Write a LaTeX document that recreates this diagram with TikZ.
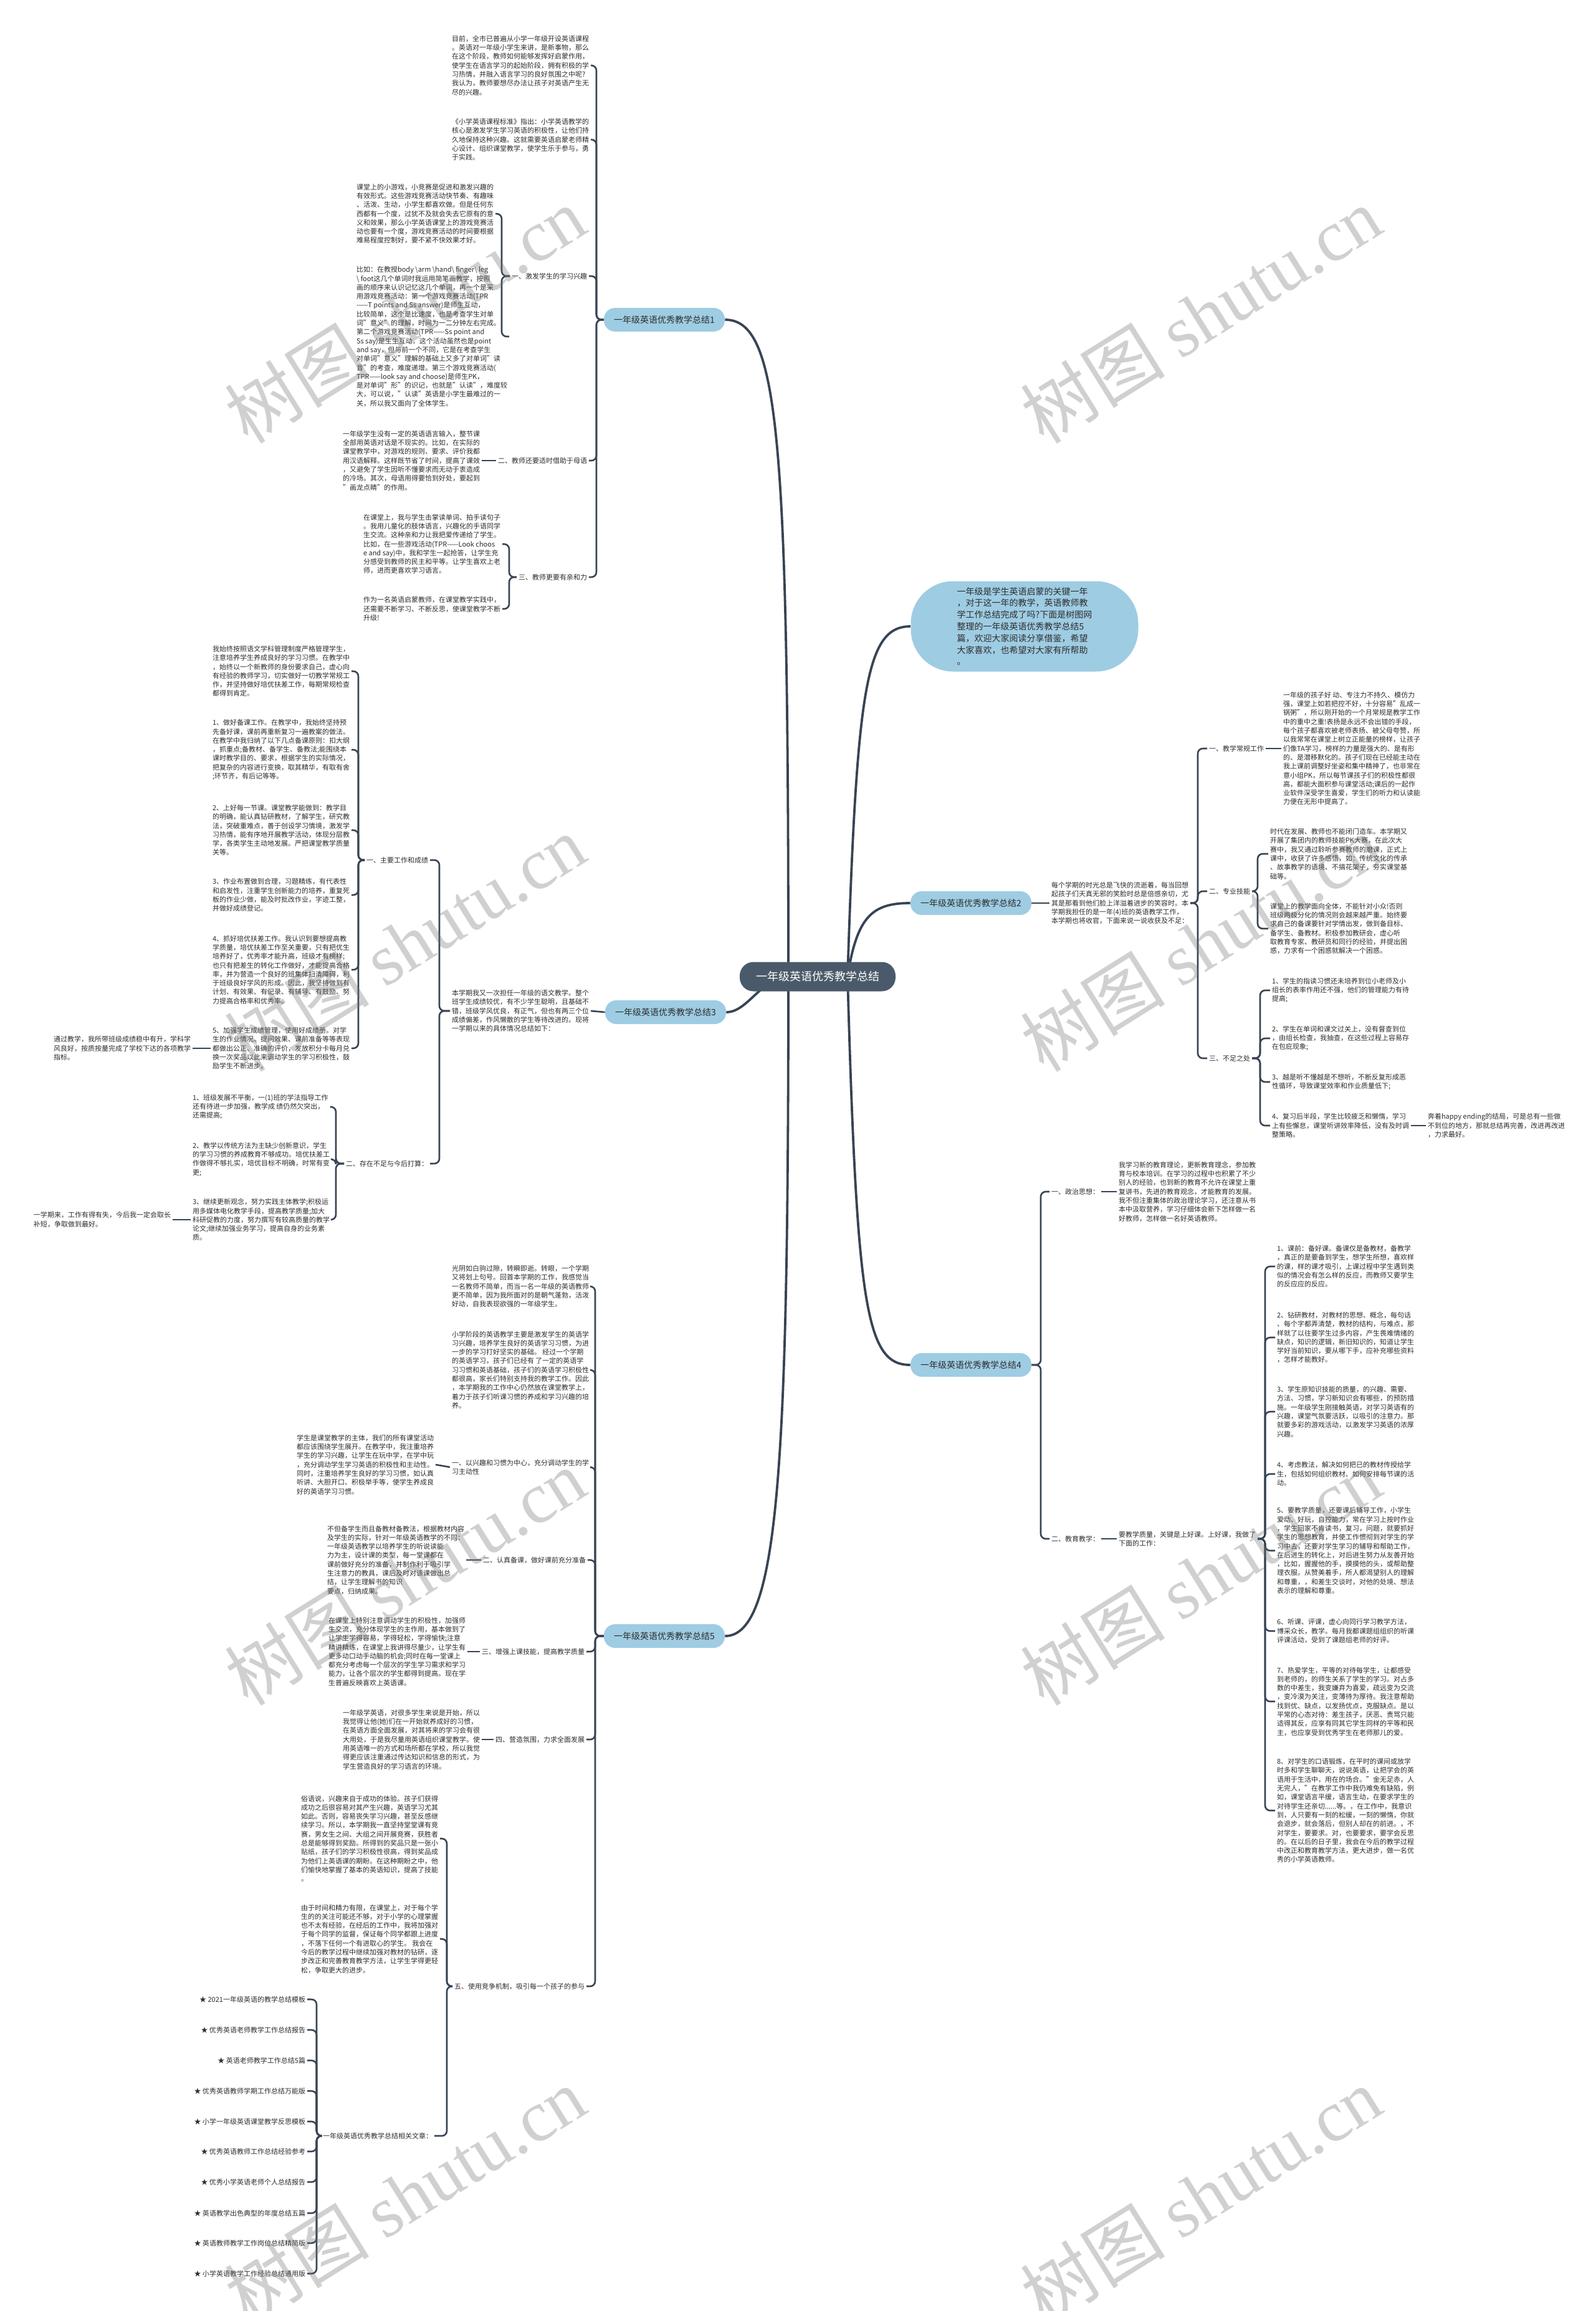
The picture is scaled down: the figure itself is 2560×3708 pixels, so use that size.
\documentclass[tikz,border=0pt]{standalone}
\usepackage{fontspec}
\setmainfont{Noto Sans CJK SC}
\newfontfamily\wmlat{Liberation Serif}
\usetikzlibrary{backgrounds}
\definecolor{ln}{RGB}{55,68,84}
\definecolor{blu}{RGB}{158,204,227}
\definecolor{ctrc}{RGB}{74,90,106}
\definecolor{txt}{RGB}{45,45,45}
\tikzset{
  para/.style={align=left, inner sep=0pt, outer sep=1.5pt, font=\fontsize{5.5}{7.15}\selectfont, text=txt},
  br/.style={draw=ln, line width=1.3pt, rounded corners=4pt},
  mainln/.style={draw=ln, line width=1.9pt},
  sumnode/.style={fill=blu, rounded corners=9pt, minimum width=97pt, minimum height=19pt, inner sep=0pt, font=\fontsize{7}{8.4}\selectfont, text=txt},
  ctrnode/.style={fill=ctrc, rounded corners=11pt, minimum width=125pt, minimum height=23.5pt, inner sep=0pt, font=\fontsize{9}{10}\selectfont, text=white},
  intronode/.style={fill=blu, rounded corners=34pt, minimum width=182.5pt, minimum height=72.5pt, inner sep=0pt, align=left, font=\fontsize{7}{9.4}\selectfont, text=txt},
  wm/.style={text=black!55, opacity=0.33, rotate=32, font=\fontsize{58}{60}\selectfont, inner sep=0pt}
}
\begin{document}
\begin{tikzpicture}[x=0.5pt,y=-0.5pt]
\useasboundingbox (0,0) rectangle (2560,3708);

% ---------- centre and main branches ----------
\node[ctrnode] (ctr) at (1312,1567) {一年级英语优秀教学总结};
\node[intronode] (intro) at (1644,1005) {一年级是学生英语启蒙的关键一年\\，对于这一年的教学，英语教师教\\学工作总结完成了吗?下面是树图网\\整理的一年级英语优秀教学总结5\\篇，欢迎大家阅读分享借鉴，希望\\大家喜欢，也希望对大家有所帮助\\。};
\node[sumnode] (n1) at (1066,513) {一年级英语优秀教学总结1};
\node[sumnode] (n2) at (1558,1449) {一年级英语优秀教学总结2};
\node[sumnode] (n3) at (1068,1624) {一年级英语优秀教学总结3};
\node[sumnode] (n4) at (1558,2190) {一年级英语优秀教学总结4};
\node[sumnode] (n5) at (1066,2625) {一年级英语优秀教学总结5};

% ---------- summary 1 ----------
\coordinate (T1) at (957,513);
\coordinate (Bc1) at (805,443);
\coordinate (Be1) at (817,926);
\node[para, anchor=west] (a1) at (722,105) {目前，全市已普遍从小学一年级开设英语课程\\。英语对一年级小学生来讲，是新事物，那么\\在这个阶段，教师如何能够发挥好启蒙作用，\\使学生在语言学习的起始阶段，拥有积极的学\\习热情，并融入语言学习的良好氛围之中呢?\\我认为，教师要想尽办法让孩子对英语产生无\\尽的兴趣。};
\node[para, anchor=west] (b1) at (722,224) {《小学英语课程标准》指出：小学英语教学的\\核心是激发学生学习英语的积极性，让他们持\\久地保持这种兴趣。这就需要英语启蒙老师精\\心设计、组织课堂教学，使学生乐于参与，勇\\于实践。};
\node[para, anchor=east] (c1) at (945,443) {一、激发学生的学习兴趣};
\node[para, anchor=west] (c1a) at (569,343) {课堂上的小游戏，小竞赛是促进和激发兴趣的\\有效形式。这些游戏竞赛活动快节奏、有趣味\\、活泼、生动，小学生都喜欢做。但是任何东\\西都有一个度，过犹不及就会失去它原有的意\\义和效果，那么小学英语课堂上的游戏竞赛活\\动也要有一个度，游戏竞赛活动的时间要根据\\难易程度控制好，要不紧不快效果才好。};
\node[para, anchor=west] (c1b) at (569,540) {比如：在教授body \textbackslash arm \textbackslash hand\textbackslash{} finger\textbackslash{} leg\\\textbackslash{} foot这几个单词时我运用简笔画教学，按照\\画的顺序来认识记忆这几个单词，再一个是采\\用游戏竞赛活动：第一个游戏竞赛活动(TPR\\——T points and Ss answer)是师生互动，\\比较简单，这个是比速度，也是考查学生对单\\词"意义"的理解，时间为一二分钟左右完成。\\第二个游戏竞赛活动(TPR——Ss point and\\Ss say)是生生互动，这个活动虽然也是point\\and say，但与前一个不同，它是在考查学生\\对单词"意义"理解的基础上又多了对单词"读\\音"的考查，难度递增。第三个游戏竞赛活动(\\TPR——look say and choose)是师生PK，\\是对单词"形"的识记，也就是"认读"，难度较\\大，可以说，"认读"英语是小学生最难过的一\\关，所以我又面向了全体学生。};
\node[para, anchor=east] (d1) at (945,739) {二、教师还要适时借助于母语};
\node[para, anchor=west] (d1a) at (547,739) {一年级学生没有一定的英语语言输入，整节课\\全部用英语对话是不现实的。比如，在实际的\\课堂教学中，对游戏的规则、要求、评价我都\\用汉语解释。这样既节省了时间，提高了课效\\，又避免了学生因听不懂要求而无动于衷造成\\的冷场。其次，母语用得要恰到好处，要起到\\"画龙点睛"的作用。};
\node[para, anchor=east] (e1) at (945,926) {三、教师更要有亲和力};
\node[para, anchor=west] (e1a) at (580,873) {在课堂上，我与学生击掌读单词、拍手读句子\\。我用儿童化的肢体语言，兴趣化的手语同学\\生交流。这种亲和力让我把爱传递给了学生。\\比如，在一些游戏活动(TPR——Look choos\\e and say)中，我和学生一起抢答，让学生充\\分感受到教师的民主和平等。让学生喜欢上老\\师，进而更喜欢学习语言。};
\node[para, anchor=west] (e1b) at (580,977) {作为一名英语启蒙教师，在课堂教学实践中，\\还需要不断学习、不断反思，使课堂教学不断\\升级!};

% ---------- summary 2 ----------
\coordinate (T2) at (1922,1449);
\coordinate (Bu2) at (2018,1430);
\coordinate (Bu3) at (2022,1698);
\node[para, anchor=west] (s2) at (1684,1449) {每个学期的时光总是飞快的流逝着，每当回想\\起孩子们天真无邪的笑脸时总是倍感亲切，尤\\其是那看到他们脸上洋溢着进步的笑容时。本\\学期我担任的是一年(4)班的英语教学工作，\\本学期也将收官，下面来说一说收获及不足：};
\node[para, anchor=west] (u1) at (1937,1201) {一、教学常规工作};
\node[para, anchor=west] (u1a) at (2056,1201) {一年级的孩子好 动、专注力不持久、模仿力\\强，课堂上如若把控不好，十分容易"乱成一\\锅粥"，所以刚开始的一个月常规是教学工作\\中的重中之重!表扬是永远不会出错的手段，\\每个孩子都喜欢被老师表扬、被父母夸赞，所\\以我常常在课堂上树立正能量的榜样，让孩子\\们像TA学习，榜样的力量是强大的、是有形\\的、是潜移默化的。孩子们现在已经能主动在\\我上课前调整好坐姿和集中精神了，也非常在\\意小组PK，所以每节课孩子们的积极性都很\\高，都能大面积参与课堂活动;课后的一起作\\业软件深受学生喜爱，学生们的听力和认读能\\力便在无形中提高了。};
\node[para, anchor=west] (u2) at (1937,1430) {二、专业技能};
\node[para, anchor=west] (u2a) at (2035,1370) {时代在发展、教师也不能闭门造车。本学期又\\开展了集团内的教师技能PK大赛，在此次大\\赛中，我又通过聆听参赛教师的磨课，正式上\\课中，收获了许多感悟，如：传统文化的传承\\、故事教学的语境、不搞花架子，夯实课堂基\\础等。};
\node[para, anchor=west] (u2b) at (2035,1490) {课堂上的教学面向全体，不能针对小众!否则\\班级两极分化的情况则会越来越严重。始终要\\求自己的备课要针对学情出发，做到备目标、\\备学生、备教材。积极参加教研会，虚心听\\取教育专家、教研员和同行的经验，并提出困\\惑，力求有一个困惑就解决一个困惑。};
\node[para, anchor=west] (u3) at (1937,1698) {三、不足之处};
\node[para, anchor=west] (u3a) at (2038,1589) {1、学生的指读习惯还未培养到位小老师及小\\组长的表率作用还不强，他们的管理能力有待\\提高;};
\node[para, anchor=west] (u3b) at (2038,1666) {2、学生在单词和课文过关上，没有督查到位\\，由组长检查，我抽查，在这些过程上容易存\\在包庇现象;};
\node[para, anchor=west] (u3c) at (2038,1736) {3、越是听不懂越是不想听，不断反复形成恶\\性循环，导致课堂效率和作业质量低下;};
\node[para, anchor=west] (u3d) at (2038,1806) {4、复习后半段，学生比较疲乏和懒惰，学习\\上有些懈怠，课堂听讲效率降低，没有及时调\\整策略。};
\node[para, anchor=west] (u3e) at (2288,1806) {奔着happy ending的结局，可是总有一些做\\不到位的地方，那就总结再完善，改进再改进\\，力求最好。};

% ---------- summary 3 ----------
\coordinate (T3) at (705,1624);
\coordinate (Bm1) at (575,1380);
\coordinate (Bm2) at (539,1867);
\node[para, anchor=west] (s3) at (722,1622) {本学期我又一次担任一年级的语文教学。整个\\班学生成绩较优，有不少学生聪明，且基础不\\错，班级学风优良，有正气，但也有两三个位\\成绩偏差，作风懒散的学生等待改进的。现将\\一学期以来的具体情况总结如下：};
\node[para, anchor=east] (m1) at (690,1380) {一、主要工作和成绩};
\node[para, anchor=west] (p1) at (338,1077) {我始终按照语文学科管理制度严格管理学生，\\注意培养学生养成良好的学习习惯。在教学中\\，始终以一个新教师的身份要求自己，虚心向\\有经验的教师学习，切实做好一切教学常规工\\作，并坚持做好培优扶差工作，每期常规检查\\都得到肯定。};
\node[para, anchor=west] (p2) at (338,1203) {1、做好备课工作。在教学中，我始终坚持预\\先备好课，课前再重新复习一遍教案的做法。\\在教学中我归纳了以下几点备课原则：扣大纲\\，抓重点;备教材、备学生、备教法;能围绕本\\课时教学目的、要求，根据学生的实际情况，\\把复杂的内容进行变换，取其精华，有取有舍\\;环节齐，有后记等等。};
\node[para, anchor=west] (p3) at (338,1332) {2、上好每一节课。课堂教学能做到：教学目\\的明确，能认真钻研教材，了解学生，研究教\\法，突破重难点，善于创设学习情境，激发学\\习热情，能有序地开展教学活动，体现分层教\\学，各类学生主动地发展。严把课堂教学质量\\关等。};
\node[para, anchor=west] (p4) at (338,1436) {3、作业布置做到合理，习题精练，有代表性\\和启发性，注重学生创新能力的培养，重复死\\板的作业少做，能及时批改作业，字迹工整，\\并做好成绩登记。};
\node[para, anchor=west] (p5) at (338,1556) {4、抓好培优扶差工作。我认识到要想提高教\\学质量，培优扶差工作至关重要，只有把优生\\培养好了，优秀率才能升高，班级才有榜样;\\也只有把差生的转化工作做好，才能提高合格\\率，并为营造一个良好的班集体扫清障碍，利\\于班级良好学风的形成。因此，我坚持做到有\\计划、有效果、有记录、有辅导、有鼓励、努\\力提高合格率和优秀率。};
\node[para, anchor=west] (p6) at (338,1682) {5、加强学生成绩管理，使用好成绩册。对学\\生的作业情况、提问效果、课前准备等等表现\\都做出公正、准确的评价，发放积分卡每月兑\\换一次奖品以此来调动学生的学习积极性，鼓\\励学生不断进步。};
\node[para, anchor=east] (p6c) at (309,1682) {通过教学，我所带班级成绩稳中有升，学科学\\风良好，按质按量完成了学校下达的各项教学\\指标。};
\node[para, anchor=east] (m2) at (690,1867) {二、存在不足与今后打算：};
\node[para, anchor=west] (q1) at (306,1776) {1、班级发展不平衡，一(1)班的学法指导工作\\还有待进一步加强，教学成 绩仍然欠突出，\\还需提高;};
\node[para, anchor=west] (q2) at (306,1860) {2、教学以传统方法为主缺少创新意识，学生\\的学习习惯的养成教育不够成功。培优扶差工\\作做得不够扎实，培优目标不明确，时常有变\\更;};
\node[para, anchor=west] (q3) at (306,1957) {3、继续更新观念，努力实践主体教学;积极运\\用多媒体电化教学手段，提高教学质量;加大\\科研促教的力度，努力撰写有较高质量的教学\\论文;继续加强业务学习，提高自身的业务素\\质。};
\node[para, anchor=east] (q3c) at (277,1957) {一学期来，工作有得有失，今后我一定会取长\\补短，争取做到最好。};

% ---------- summary 4 ----------
\coordinate (T4) at (1670,2190);
\coordinate (Bw) at (2030,2469);
\node[para, anchor=west] (v1) at (1684,1912) {一、政治思想：};
\node[para, anchor=west] (v1a) at (1792,1912) {我学习新的教育理论，更新教育理念，参加教\\育与校本培训。在学习的过程中也积累了不少\\别人的经验，也到新的教育不允许在课堂上重\\复讲书，先进的教育观念，才能教育的发展。\\我不但注重集体的政治理论学习，还注意从书\\本中汲取营养，学习仔细体会新下怎样做一名\\好教师，怎样做一名好英语教师。};
\node[para, anchor=west] (v2) at (1684,2469) {二、教育教学：};
\node[para, anchor=west] (v2a) at (1792,2469) {要教学质量，关键是上好课。上好课，我做了\\下面的工作：};
\node[para, anchor=west] (w1) at (2046,2032) {1、课前：备好课。备课仅是备教材，备教学\\，真正的是要备到学生，想学生所想，喜欢样\\的课，样的课才吸引，上课过程中学生遇到类\\似的情况会有怎么样的反应，而教师又要学生\\的反应应的反应。};
\node[para, anchor=west] (w2) at (2046,2146) {2、钻研教材，对教材的思想、概念，每句话\\、每个字都弄清楚，教材的结构，与难点，那\\样就了以往要学生过多内容，产生畏难情绪的\\缺点，知识的逻辑，新旧知识的，知道让学生\\学好当前知识，要从哪下手，应补充哪些资料\\，怎样才能教好。};
\node[para, anchor=west] (w3) at (2046,2265) {3、学生原知识技能的质量，的兴趣、需要、\\方法、习惯，学习新知识会有哪些，的预防措\\施。一年级学生刚接触英语，对学习英语有的\\兴趣，课堂气氛要活跃，以吸引的注意力。那\\就要多彩的游戏活动，以激发学习英语的浓厚\\兴趣。};
\node[para, anchor=west] (w4) at (2046,2365) {4、考虑教法，解决如何把已的教材传授给学\\生，包括如何组织教材、如何安排每节课的活\\动。};
\node[para, anchor=west] (w5) at (2046,2488) {5、要教学质量，还要课后辅导工作，小学生\\爱动、好玩，自控能力，常在学习上按时作业\\，学生回家不肯读书，复习，问题，就要抓好\\学生的思想教育，并使工作惯彻到对学生的学\\习中去，还要对学生学习的辅导和帮助工作，\\在后进生的转化上，对后进生努力从友善开始\\，比如，握握他的手，摸摸他的头，或帮助整\\理衣服。从赞美着手，所人都渴望别人的理解\\和尊重，，和差生交谈时，对他的处境、想法\\表示的理解和尊重。};
\node[para, anchor=west] (w6) at (2046,2617) {6、听课、评课，虚心向同行学习教学方法，\\博采众长，教学。每月我都课题组组织的听课\\评课活动，受到了课题组老师的好评。};
\node[para, anchor=west] (w7) at (2046,2730) {7、热爱学生，平等的对待每学生，让都感受\\到老师的，的师生关系了学生的学习。对占多\\数的中差生，我变嫌弃为喜爱，疏远变为交流\\，变冷漠为关注，变薄待为厚待。我注意帮助\\找到优、缺点，以发扬优点，克服缺点。是以\\平常的心态对待：差生孩子，厌恶、责骂只能\\适得其反，应享有同其它学生同样的平等和民\\主，也应享受到优秀学生在老师那儿的爱。};
\node[para, anchor=west] (w8) at (2046,2905) {8、对学生的口语锻炼，在平时的课间或放学\\时多和学生聊聊天，说说英语，让把学会的英\\语用于生活中，用在的场合。"金无足赤，人\\无完人，"在教学工作中我仍难免有缺陷，例\\如，课堂语言平缓，语言生动，在要求学生的\\对待学生还亲切......等。，在工作中，我意识\\到，人只要有一刻的松缓，一刻的懒惰，你就\\会退步，就会落后，但别人却在的前进。，不\\对学生，要要求。对，也要要求，要学会反思\\的。在以后的日子里，我会在今后的教学过程\\中改正和教育教学方法，更大进步，做一名优\\秀的小学英语教师。};

% ---------- summary 5 ----------
\coordinate (T5) at (955,2625);
\coordinate (B7) at (717,3187);
\coordinate (B8) at (508,3427);
\node[para, anchor=west] (x1) at (722,2064) {光阴如白驹过隙，转瞬即逝。转眼，一个学期\\又将划上句号。回首本学期的工作，我感觉当\\一名教师不简单，而当一名一年级的英语教师\\更不简单，因为我所面对的是朝气蓬勃，活泼\\好动，自我表现欲强的一年级学生。};
\node[para, anchor=west] (x2) at (722,2198) {小学阶段的英语教学主要是激发学生的英语学\\习兴趣，培养学生良好的英语学习习惯，为进\\一步的学习打好坚实的基础。 经过一个学期\\的英语学习，孩子们已经有 了一定的英语学\\习习惯和英语基础，孩子们的英语学习积极性\\都很高，家长们特别支持我的教学工作。因此\\，本学期我的工作中心仍然放在课堂教学上，\\着力于孩子们听课习惯的养成和学习兴趣的培\\养。};
\node[para, anchor=west] (x3) at (722,2354) {一、以兴趣和习惯为中心，充分调动学生的学\\习主动性};
\node[para, anchor=east] (x3a) at (699,2350) {学生是课堂教学的主体，我们的所有课堂活动\\都应该围绕学生展开。在教学中，我注重培养\\学生的学习兴趣，让学生在玩中学，在学中玩\\，充分调动学生学习英语的积极性和主动性。\\同时，注重培养学生良好的学习习惯，如认真\\听讲、大胆开口、积极举手等，使学生养成良\\好的英语学习习惯。};
\node[para, anchor=east] (x4) at (943,2503) {二、认真备课，做好课前充分准备};
\node[para, anchor=east] (x4a) at (748,2503) {不但备学生而且备教材备教法，根据教材内容\\及学生的实际，针对一年级英语教学的不同：\\一年级英语教学以培养学生的听说读能\\力为主，设计课的类型，每一堂课都在\\课前做好充分的准备，并制作利于吸引学\\生注意力的教具，课后及时对该课做出总\\结，让学生理解书的知识\\要点，归纳成果。};
\node[para, anchor=east] (x5) at (941,2650) {三、增强上课技能，提高教学质量};
\node[para, anchor=west] (x5a) at (524,2650) {在课堂上特别注意调动学生的积极性，加强师\\生交流，充分体现学生的主作用，基本做到了\\让学生学得容易，学得轻松，学得愉快;注意\\精讲精练，在课堂上我讲得尽量少，让学生有\\更多动口动手动脑的机会;同时在每一堂课上\\都充分考虑每一个层次的学生学习需求和学习\\能力，让各个层次的学生都得到提高。现在学\\生普遍反映喜欢上英语课。};
\node[para, anchor=east] (x6) at (941,2791) {四、营造氛围，力求全面发展};
\node[para, anchor=west] (x6a) at (547,2791) {一年级学英语，对很多学生来说是开始，所以\\我觉得让他(她)们在一开始就养成好的习惯，\\在英语方面全面发展，对其将来的学习会有很\\大用处，于是我尽量用英语组织课堂教学。使\\用英语唯一的方式和场所都在学校，所以我觉\\得更应该注重通过传达知识和信息的形式，为\\学生营造良好的学习语言的环境。};
\node[para, anchor=east] (x7) at (941,3187) {五、使用竞争机制，吸引每一个孩子的参与};
\node[para, anchor=west] (y1) at (480,2950) {俗语说，兴趣来自于成功的体验。孩子们获得\\成功之后很容易对其产生兴趣，英语学习尤其\\如此。否则，容易丧失学习兴趣，甚至反感继\\续学习。所以，本学期我一直坚持堂堂课有竞\\赛，男女生之间、大组之间开展竞赛，获胜者\\总是能够得到奖励。所得到的奖品只是一张小\\贴纸，孩子们的学习积极性很高，得到奖品成\\为他们上英语课的期盼。在这种期盼之中，他\\们愉快地掌握了基本的英语知识，提高了技能\\。};
\node[para, anchor=west] (y2) at (480,3111) {由于时间和精力有限，在课堂上，对于每个学\\生的的关注可能还不够，对于小学的心理掌握\\也不太有经验，在经后的工作中，我将加强对\\于每个同学的监督，保证每个同学都跟上进度\\，不落下任何一个有进取心的学生。 我会在\\今后的教学过程中继续加强对教材的钻研，逐\\步改正和完善教育教学方法，让学生学得更轻\\松，争取更大的进步。};
\node[para, anchor=east] (y3) at (697,3427) {一年级英语优秀教学总结相关文章：};
\node[para, anchor=east] (z1) at (493,3208) {★ 2021一年级英语的教学总结模板};
\node[para, anchor=east] (z2) at (493,3257) {★ 优秀英语老师教学工作总结报告};
\node[para, anchor=east] (z3) at (493,3306) {★ 英语老师教学工作总结5篇};
\node[para, anchor=east] (z4) at (493,3355) {★ 优秀英语教师学期工作总结万能版};
\node[para, anchor=east] (z5) at (493,3404) {★ 小学一年级英语课堂教学反思模板};
\node[para, anchor=east] (z6) at (493,3452) {★ 优秀英语教师工作总结经验参考};
\node[para, anchor=east] (z7) at (493,3501) {★ 优秀小学英语老师个人总结报告};
\node[para, anchor=east] (z8) at (493,3551) {★ 英语教学出色典型的年度总结五篇};
\node[para, anchor=east] (z9) at (493,3599) {★ 英语教师教学工作岗位总结精简版};
\node[para, anchor=east] (z10) at (493,3648) {★ 小学英语教学工作经验总结通用版};

% ---------- connectors ----------
\begin{pgfonlayer}{background}
\fill[white] (0,0) rectangle (2560,3708);
\draw[mainln] ([xshift=-23.5pt]ctr.center) .. controls (1265,700) and (1250,513) .. (n1.east);
\draw[mainln] ([xshift=-23.5pt]ctr.center) .. controls (1220,1570) and (1200,1624) .. (n3.east);
\draw[mainln] ([xshift=-23.5pt]ctr.center) .. controls (1265,2350) and (1250,2625) .. (n5.east);
\draw[mainln] ([xshift=24pt]ctr.center) .. controls (1375,1100) and (1390,1005) .. (intro.west);
\draw[mainln] ([xshift=24pt]ctr.center) .. controls (1375,1470) and (1400,1449) .. (n2.west);
\draw[mainln] ([xshift=24pt]ctr.center) .. controls (1375,2100) and (1390,2190) .. (n4.west);

% summary 1
\foreach \c in {a1,b1,c1,d1,e1}
  \draw[br] (n1.west) -- (n1.west -| T1) -- (\c.east -| T1) -- (\c.east);
\foreach \c in {c1a,c1b}
  \draw[br] (c1.west) -- (c1.west -| Bc1) -- (\c.east -| Bc1) -- (\c.east);
\draw[br] (d1.west) -- (d1a.east);
\foreach \c in {e1a,e1b}
  \draw[br] (e1.west) -- (e1.west -| Be1) -- (\c.east -| Be1) -- (\c.east);

% summary 2
\draw[br] (n2.east) -- (s2.west);
\foreach \c in {u1,u2,u3}
  \draw[br] (s2.east) -- (s2.east -| T2) -- (\c.west -| T2) -- (\c.west);
\draw[br] (u1.east) -- (u1a.west);
\foreach \c in {u2a,u2b}
  \draw[br] (u2.east) -- (u2.east -| Bu2) -- (\c.west -| Bu2) -- (\c.west);
\foreach \c in {u3a,u3b,u3c,u3d}
  \draw[br] (u3.east) -- (u3.east -| Bu3) -- (\c.west -| Bu3) -- (\c.west);
\draw[br] (u3d.east) -- (u3e.west);

% summary 3
\draw[br] (n3.west) -- (s3.east);
\foreach \c in {m1,m2}
  \draw[br] (s3.west) -- (s3.west -| T3) -- (\c.east -| T3) -- (\c.east);
\foreach \c in {p1,p2,p3,p4,p5,p6}
  \draw[br] (m1.west) -- (m1.west -| Bm1) -- (\c.east -| Bm1) -- (\c.east);
\draw[br] (p6.west) -- (p6c.east);
\foreach \c in {q1,q2,q3}
  \draw[br] (m2.west) -- (m2.west -| Bm2) -- (\c.east -| Bm2) -- (\c.east);
\draw[br] (q3.west) -- (q3c.east);

% summary 4
\foreach \c in {v1,v2}
  \draw[br] (n4.east) -- (n4.east -| T4) -- (\c.west -| T4) -- (\c.west);
\draw[br] (v1.east) -- (v1a.west);
\draw[br] (v2.east) -- (v2a.west);
\foreach \c in {w1,w2,w3,w4,w5,w6,w7,w8}
  \draw[br] (v2a.east) -- (v2a.east -| Bw) -- (\c.west -| Bw) -- (\c.west);

% summary 5
\foreach \c in {x1,x2,x3,x4,x5,x6,x7}
  \draw[br] (n5.west) -- (n5.west -| T5) -- (\c.east -| T5) -- (\c.east);
\draw[br] (x3.west) -- (x3a.east);
\draw[br] (x4.west) -- (x4a.east);
\draw[br] (x5.west) -- (x5a.east);
\draw[br] (x6.west) -- (x6a.east);
\foreach \c in {y1,y2,y3}
  \draw[br] (x7.west) -- (x7.west -| B7) -- (\c.east -| B7) -- (\c.east);
\foreach \c in {z1,z2,z3,z4,z5,z6,z7,z8,z9,z10}
  \draw[br] (y3.west) -- (y3.west -| B8) -- (\c.east -| B8) -- (\c.east);
\end{pgfonlayer}

% ---------- watermarks ----------
\foreach \wx/\wy [count=\i] in {650/505, 1927/505, 650/1513, 1927/1513, 650/2530, 1927/2530, 650/3522, 1927/3522}
  \node[wm] (wm\i) at (\wx,\wy) {树图 {\wmlat shutu.cn}};
\end{tikzpicture}
\end{document}
